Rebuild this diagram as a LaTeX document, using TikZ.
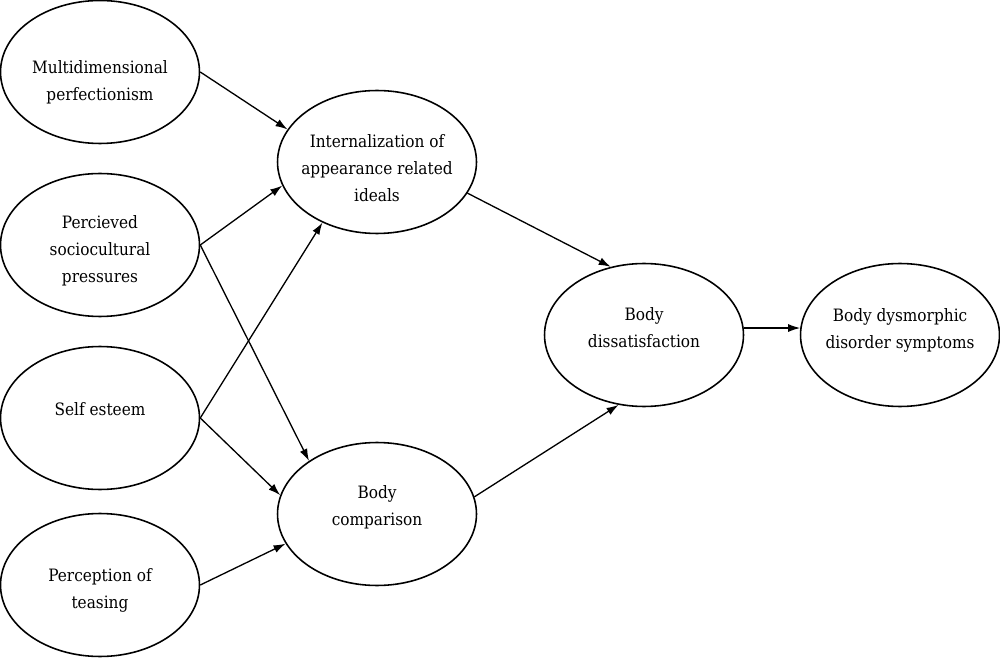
\documentclass[tikz,border=0pt]{standalone}
\usepackage{fontspec}
\setmainfont{DejaVu Serif Condensed}
\usetikzlibrary{shapes.geometric,arrows.meta}

\begin{document}
\begin{tikzpicture}[x=0.02cm, y=-0.02cm,
        var/.style={draw, ellipse, line width=0.9pt, minimum width=3.98cm, minimum height=2.86cm, inner sep=0pt},
        txt/.style={align=center, inner sep=0pt, font=\fontsize{9.7}{15.4}\selectfont},
        effect/.style={-{Latex[length=2.4mm, width=1.6mm]}, line width=0.75pt}]
        \useasboundingbox (0,0) rectangle (1000,658);

        \node[var, label={[txt, yshift=-0.2cm]center:Multidimensional\\perfectionism}] (multi) at (100,72) {};
        \node[var, label={[txt, yshift=-0.12cm]center:Percieved\\sociocultural\\pressures}] (pressure) at (100,245) {};
        \node[var, label={[txt, yshift=0.18cm]center:Self esteem}] (esteem) at (100,418) {};
        \node[var, label={[txt, yshift=-0.1cm]center:Perception of\\teasing}] (teasing) at (100,585) {};
        \node[var, label={[txt, yshift=-0.12cm]center:Internalization of\\appearance related\\ideals}] (internal) at (377,162) {};
        \node[var, label={[txt, yshift=0.14cm]center:Body\\comparison}] (comparison) at (377,514) {};
        \node[var, label={[txt, yshift=0.14cm]center:Body\\dissatisfaction}] (dissat) at (644,335) {};
        \node[var, label={[txt, yshift=0.1cm]center:Body dysmorphic\\disorder symptoms}] (bdd) at (900,335) {};

        \draw[effect] (multi.east) -- (internal.160);
        \draw[effect] (pressure.east) -- (internal.194);
        \draw[effect] (pressure.east) -- (comparison.142);
        \draw[effect] (esteem.east) -- (internal.228);
        \draw[effect] (esteem.east) -- (comparison.169);
        \draw[effect] (teasing.east) -- (comparison.198);
        \draw[effect] (internal.341) -- (dissat.116);
        \draw[effect] (comparison.10) -- (dissat.250);
        \draw[effect] (dissat.4) -- (bdd.176);
\end{tikzpicture}
\end{document}
